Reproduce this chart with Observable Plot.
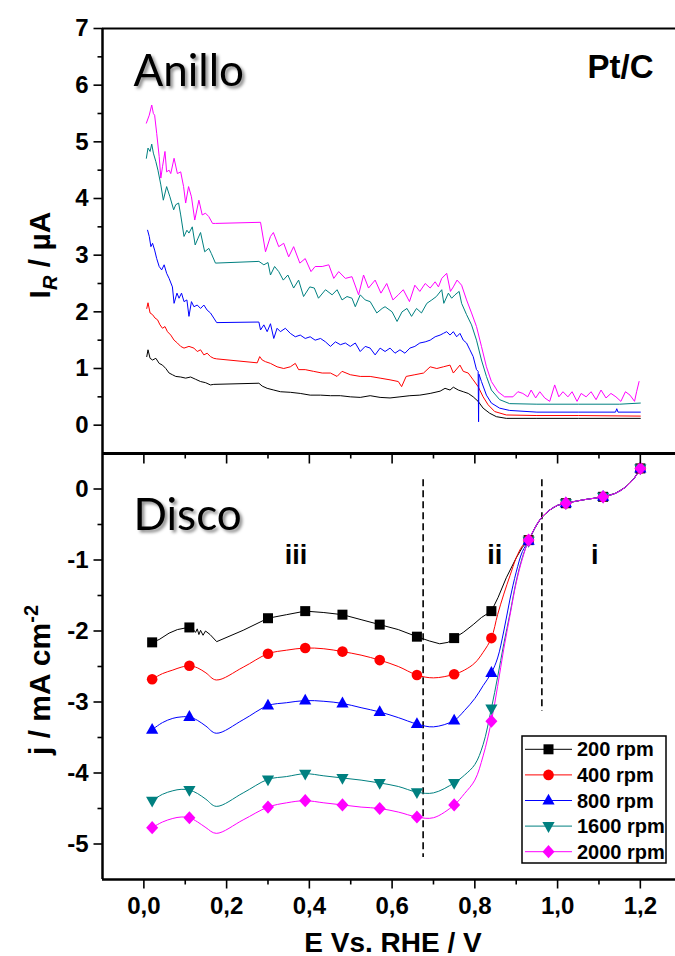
<!DOCTYPE html>
<html><head><meta charset="utf-8">
<script src="https://cdn.jsdelivr.net/npm/d3@7"></script>
<script src="https://cdn.jsdelivr.net/npm/@observablehq/plot@0.6"></script>
<style>
html,body{margin:0;padding:0;background:#fff;overflow:hidden;}
#wrap{position:relative;width:675px;height:956px;overflow:hidden;background:#fff;}
#wrap svg{position:absolute;left:0;}
</style></head><body><div id="wrap"></div>
<script>
// ---------------- DATA ----------------
const rpmLabels = ["200 rpm", "400 rpm", "800 rpm", "1600 rpm", "2000 rpm"];

// Ring current I_R (µA) vs E (V), pairs [E, I]
const ring200 = [[0.007,1.21],[0.010,1.33],[0.015,1.18],[0.021,1.15],[0.029,1.18],[0.037,1.09],[0.045,1.06],[0.053,1.00],[0.061,0.92],[0.069,0.89],[0.077,0.86],[0.089,0.85],[0.101,0.83],[0.113,0.85],[0.125,0.81],[0.137,0.77],[0.149,0.75],[0.161,0.71],[0.169,0.72],[0.278,0.74],[0.286,0.69],[0.298,0.65],[0.314,0.62],[0.330,0.59],[0.354,0.58],[0.378,0.56],[0.402,0.53],[0.427,0.53],[0.451,0.52],[0.475,0.52],[0.499,0.50],[0.523,0.49],[0.547,0.52],[0.571,0.49],[0.595,0.48],[0.619,0.50],[0.643,0.52],[0.667,0.53],[0.692,0.56],[0.716,0.60],[0.728,0.65],[0.740,0.62],[0.748,0.67],[0.760,0.62],[0.772,0.59],[0.784,0.56],[0.796,0.50],[0.808,0.42],[0.820,0.30],[0.836,0.21],[0.852,0.15],[0.876,0.12],[0.95,0.12],[1.05,0.12],[1.20,0.12]];
const ring400 = [[0.007,2.06],[0.010,2.16],[0.015,1.98],[0.021,1.95],[0.027,1.89],[0.033,1.86],[0.039,1.77],[0.045,1.71],[0.051,1.74],[0.057,1.65],[0.065,1.59],[0.073,1.50],[0.081,1.45],[0.089,1.39],[0.097,1.36],[0.109,1.39],[0.121,1.36],[0.129,1.30],[0.137,1.33],[0.145,1.24],[0.153,1.27],[0.161,1.21],[0.169,1.18],[0.176,1.17],[0.274,1.10],[0.280,1.21],[0.286,1.15],[0.294,1.12],[0.306,1.09],[0.322,1.03],[0.338,1.00],[0.354,1.03],[0.366,1.09],[0.374,0.98],[0.390,0.98],[0.410,0.95],[0.431,0.92],[0.451,0.92],[0.467,0.86],[0.479,0.95],[0.499,0.89],[0.523,0.86],[0.547,0.86],[0.571,0.83],[0.595,0.80],[0.615,0.77],[0.623,0.68],[0.634,0.86],[0.655,0.89],[0.676,0.92],[0.692,1.03],[0.708,1.00],[0.724,1.03],[0.740,1.06],[0.748,0.92],[0.764,1.06],[0.772,0.95],[0.784,0.92],[0.796,0.80],[0.808,0.68],[0.820,0.50],[0.832,0.36],[0.848,0.24],[0.876,0.18],[0.95,0.17],[1.05,0.17],[1.20,0.16]];
const ring800 = [[0.009,3.44],[0.013,3.33],[0.017,3.15],[0.021,3.21],[0.026,3.09],[0.031,2.94],[0.037,2.80],[0.043,2.74],[0.049,2.83],[0.055,2.68],[0.061,2.59],[0.069,2.44],[0.073,2.15],[0.080,2.33],[0.085,2.24],[0.091,2.33],[0.097,2.18],[0.104,2.21],[0.109,1.92],[0.115,2.18],[0.121,2.09],[0.129,2.12],[0.137,2.06],[0.145,2.12],[0.153,2.03],[0.161,1.98],[0.169,1.89],[0.176,1.81],[0.278,1.82],[0.282,1.68],[0.290,1.77],[0.298,1.65],[0.306,1.79],[0.314,1.53],[0.322,1.71],[0.330,1.65],[0.342,1.71],[0.354,1.62],[0.366,1.56],[0.378,1.59],[0.390,1.53],[0.402,1.56],[0.414,1.50],[0.427,1.53],[0.439,1.47],[0.451,1.39],[0.463,1.47],[0.475,1.42],[0.487,1.45],[0.499,1.39],[0.511,1.45],[0.523,1.30],[0.535,1.39],[0.547,1.36],[0.559,1.24],[0.571,1.36],[0.583,1.30],[0.595,1.36],[0.607,1.27],[0.619,1.33],[0.631,1.27],[0.643,1.36],[0.655,1.39],[0.667,1.45],[0.680,1.47],[0.692,1.50],[0.704,1.56],[0.716,1.59],[0.724,1.62],[0.732,1.65],[0.740,1.59],[0.748,1.65],[0.756,1.56],[0.764,1.62],[0.772,1.50],[0.780,1.45],[0.788,1.33],[0.796,1.21],[0.804,0.98],[0.808,0.95],[0.809,0.06],[0.810,0.90],[0.816,0.77],[0.828,0.53],[0.840,0.39],[0.860,0.30],[0.884,0.26],[0.95,0.23],[1.05,0.23],[1.14,0.23],[1.143,0.29],[1.146,0.23],[1.20,0.23]];
const ring1600 = [[0.006,4.71],[0.010,4.89],[0.015,4.83],[0.019,4.96],[0.023,4.80],[0.029,4.65],[0.034,4.50],[0.041,4.24],[0.047,3.97],[0.055,4.21],[0.063,4.03],[0.072,3.80],[0.077,3.89],[0.084,3.92],[0.089,3.71],[0.097,3.33],[0.104,3.44],[0.109,3.39],[0.117,3.50],[0.124,3.18],[0.131,3.30],[0.137,3.40],[0.147,3.06],[0.157,3.12],[0.163,3.03],[0.173,2.86],[0.278,2.89],[0.290,2.83],[0.300,2.87],[0.306,2.65],[0.316,2.80],[0.326,2.71],[0.337,2.56],[0.348,2.65],[0.362,2.42],[0.374,2.56],[0.386,2.27],[0.401,2.44],[0.412,2.42],[0.422,2.24],[0.439,2.39],[0.455,2.30],[0.467,2.39],[0.479,2.21],[0.491,2.27],[0.503,2.24],[0.511,2.09],[0.523,2.30],[0.535,2.21],[0.547,2.18],[0.563,1.98],[0.576,2.06],[0.583,2.09],[0.600,2.00],[0.612,1.83],[0.624,2.00],[0.636,2.06],[0.647,1.92],[0.659,2.06],[0.671,1.98],[0.684,2.15],[0.696,2.21],[0.707,2.27],[0.720,2.39],[0.725,2.15],[0.736,2.33],[0.744,2.24],[0.752,2.30],[0.762,2.36],[0.768,2.15],[0.780,1.95],[0.792,1.77],[0.804,1.50],[0.816,1.15],[0.828,0.86],[0.840,0.62],[0.860,0.45],[0.884,0.38],[0.95,0.37],[1.05,0.37],[1.15,0.37],[1.20,0.39]];
const ring2000 = [[0.006,5.33],[0.013,5.47],[0.019,5.65],[0.023,5.50],[0.026,5.47],[0.031,5.15],[0.037,4.74],[0.041,4.36],[0.045,4.56],[0.051,4.83],[0.055,4.47],[0.061,4.50],[0.065,4.44],[0.073,4.71],[0.081,4.44],[0.089,4.47],[0.096,4.21],[0.101,3.92],[0.108,4.21],[0.115,4.03],[0.123,3.62],[0.133,3.97],[0.141,3.71],[0.149,3.74],[0.157,3.68],[0.166,3.56],[0.173,3.56],[0.282,3.58],[0.294,3.06],[0.306,3.33],[0.313,3.40],[0.326,3.15],[0.338,3.21],[0.350,2.97],[0.362,3.15],[0.377,2.86],[0.390,2.94],[0.404,2.71],[0.414,2.80],[0.431,2.80],[0.447,2.83],[0.459,2.59],[0.471,2.71],[0.487,2.59],[0.503,2.62],[0.519,2.30],[0.531,2.65],[0.543,2.42],[0.559,2.56],[0.573,2.33],[0.587,2.50],[0.602,2.21],[0.615,2.30],[0.627,2.39],[0.642,2.18],[0.655,2.47],[0.667,2.36],[0.680,2.50],[0.692,2.42],[0.704,2.53],[0.712,2.44],[0.720,2.59],[0.732,2.68],[0.741,2.36],[0.748,2.44],[0.757,2.56],[0.768,2.47],[0.780,2.21],[0.792,1.98],[0.804,1.74],[0.816,1.39],[0.828,1.03],[0.840,0.77],[0.856,0.59],[0.872,0.50],[0.892,0.50],[0.904,0.59],[0.916,0.56],[0.928,0.50],[0.936,0.62],[0.947,0.48],[0.957,0.59],[0.969,0.48],[0.981,0.42],[0.993,0.71],[1.003,0.50],[1.013,0.59],[1.025,0.50],[1.035,0.59],[1.047,0.42],[1.057,0.56],[1.069,0.50],[1.081,0.59],[1.093,0.45],[1.105,0.62],[1.117,0.48],[1.129,0.56],[1.141,0.50],[1.153,0.42],[1.164,0.59],[1.175,0.53],[1.186,0.42],[1.191,0.59],[1.197,0.77]];

// Disk current density j (mA cm^-2) vs E (V), pairs [E, j]
const disk200 = [[0.02,-2.16],[0.037,-2.12],[0.061,-2.03],[0.081,-1.98],[0.107,-1.95],[0.118,-1.97],[0.125,-2.02],[0.129,-1.97],[0.133,-2.05],[0.137,-1.99],[0.143,-2.06],[0.149,-2.00],[0.16,-2.05],[0.176,-2.15],[0.24,-1.99],[0.30,-1.82],[0.345,-1.77],[0.39,-1.72],[0.435,-1.74],[0.48,-1.77],[0.525,-1.84],[0.57,-1.91],[0.615,-1.98],[0.66,-2.08],[0.69,-2.14],[0.715,-2.18],[0.735,-2.16],[0.75,-2.10],[0.772,-2.02],[0.796,-1.91],[0.816,-1.81],[0.84,-1.72],[0.856,-1.53],[0.876,-1.25],[0.90,-0.97],[0.915,-0.82],[0.93,-0.72],[0.945,-0.55],[0.96,-0.41],[0.98,-0.30],[1.00,-0.23],[1.02,-0.20],[1.065,-0.15],[1.11,-0.11],[1.14,-0.06],[1.165,0.03],[1.185,0.15],[1.20,0.29]];
const disk400 = [[0.02,-2.68],[0.045,-2.60],[0.07,-2.55],[0.09,-2.51],[0.11,-2.49],[0.13,-2.52],[0.15,-2.59],[0.175,-2.69],[0.24,-2.51],[0.30,-2.32],[0.345,-2.27],[0.39,-2.24],[0.435,-2.25],[0.48,-2.29],[0.525,-2.34],[0.57,-2.41],[0.615,-2.50],[0.66,-2.62],[0.70,-2.66],[0.75,-2.61],[0.775,-2.55],[0.80,-2.45],[0.82,-2.30],[0.84,-2.10],[0.855,-1.77],[0.87,-1.48],[0.885,-1.22],[0.90,-0.97],[0.915,-0.80],[0.93,-0.72],[0.945,-0.55],[0.96,-0.41],[0.98,-0.30],[1.00,-0.23],[1.02,-0.20],[1.065,-0.15],[1.11,-0.11],[1.14,-0.06],[1.165,0.03],[1.185,0.15],[1.20,0.29]];
const disk800 = [[0.02,-3.39],[0.045,-3.29],[0.07,-3.23],[0.09,-3.21],[0.11,-3.21],[0.13,-3.26],[0.15,-3.34],[0.175,-3.44],[0.24,-3.25],[0.30,-3.05],[0.345,-3.01],[0.39,-2.98],[0.435,-2.99],[0.48,-3.02],[0.525,-3.08],[0.57,-3.14],[0.615,-3.22],[0.66,-3.31],[0.70,-3.35],[0.75,-3.26],[0.775,-3.12],[0.80,-2.95],[0.82,-2.77],[0.84,-2.59],[0.855,-2.38],[0.87,-2.00],[0.885,-1.55],[0.90,-1.17],[0.915,-0.88],[0.93,-0.73],[0.945,-0.55],[0.96,-0.41],[0.98,-0.30],[1.00,-0.23],[1.02,-0.20],[1.065,-0.15],[1.11,-0.11],[1.14,-0.06],[1.165,0.03],[1.185,0.15],[1.20,0.29]];
const disk1600 = [[0.02,-4.39],[0.045,-4.30],[0.07,-4.25],[0.09,-4.23],[0.11,-4.24],[0.13,-4.29],[0.15,-4.37],[0.175,-4.47],[0.24,-4.28],[0.30,-4.09],[0.345,-4.05],[0.39,-4.01],[0.435,-4.04],[0.48,-4.07],[0.525,-4.10],[0.57,-4.14],[0.615,-4.19],[0.66,-4.27],[0.70,-4.28],[0.75,-4.14],[0.775,-4.03],[0.80,-3.88],[0.82,-3.60],[0.84,-3.09],[0.855,-2.65],[0.87,-2.18],[0.885,-1.75],[0.90,-1.30],[0.915,-0.96],[0.93,-0.73],[0.945,-0.55],[0.96,-0.41],[0.98,-0.30],[1.00,-0.23],[1.02,-0.20],[1.065,-0.15],[1.11,-0.11],[1.14,-0.06],[1.165,0.03],[1.185,0.15],[1.20,0.29]];
const disk2000 = [[0.02,-4.77],[0.045,-4.69],[0.07,-4.64],[0.09,-4.62],[0.11,-4.63],[0.13,-4.69],[0.15,-4.77],[0.175,-4.85],[0.24,-4.66],[0.30,-4.48],[0.345,-4.42],[0.39,-4.39],[0.435,-4.42],[0.48,-4.45],[0.525,-4.48],[0.57,-4.50],[0.615,-4.55],[0.66,-4.62],[0.70,-4.63],[0.75,-4.45],[0.775,-4.29],[0.80,-4.10],[0.82,-3.76],[0.84,-3.27],[0.855,-2.78],[0.87,-2.25],[0.885,-1.78],[0.90,-1.32],[0.915,-0.98],[0.93,-0.72],[0.945,-0.55],[0.96,-0.41],[0.98,-0.30],[1.00,-0.23],[1.02,-0.20],[1.065,-0.15],[1.11,-0.11],[1.14,-0.06],[1.165,0.03],[1.185,0.15],[1.20,0.29]];

// Marker positions on disk curves
const diskMarkE = [0.02,0.11,0.30,0.39,0.48,0.57,0.66,0.75,0.84,0.93,1.02,1.11,1.20];
const diskMark200  = [-2.16,-1.95,-1.82,-1.72,-1.77,-1.91,-2.08,-2.10,-1.72,-0.72,-0.20,-0.11,0.29];
const diskMark400  = [-2.68,-2.49,-2.32,-2.24,-2.29,-2.41,-2.62,-2.61,-2.10,-0.72,-0.20,-0.11,0.29];
const diskMark800  = [-3.39,-3.21,-3.05,-2.98,-3.02,-3.14,-3.31,-3.26,-2.59,-0.73,-0.20,-0.11,0.29];
const diskMark1600 = [-4.39,-4.24,-4.09,-4.01,-4.07,-4.14,-4.27,-4.14,-3.09,-0.73,-0.20,-0.11,0.29];
const diskMark2000 = [-4.77,-4.63,-4.48,-4.39,-4.45,-4.50,-4.62,-4.45,-3.27,-0.72,-0.20,-0.11,0.29];

// Axes
const xDomain = [-0.1, 1.285];
const ringYDomain = [-0.5, 7];
const diskYDomain = [-5.5, 0.5];
const xMajorTicks = [0, 0.2, 0.4, 0.6, 0.8, 1.0, 1.2];
const xMinorTicks = [0.1, 0.3, 0.5, 0.7, 0.9, 1.1];
const ringYTicks = [0, 1, 2, 3, 4, 5, 6, 7];
const ringYMinor = [0.5, 1.5, 2.5, 3.5, 4.5, 5.5, 6.5];
const diskYTicks = [-5, -4, -3, -2, -1, 0];
const diskYMinor = [-4.5, -3.5, -2.5, -1.5, -0.5];

// Region annotations
const regionLabels = ["iii", "ii", "i"];
const regionLabelE = [0.368, 0.848, 1.09];
const regionLabelJ = [-1.05, -1.05, -1.05];
const regionBoundE = [0.675, 0.962];
const regionBoundHigh = [0.13, 0.13];
const regionBoundLow = [-5.19, -3.13];

// ---------------- STYLE ----------------
const colors = ["#000000", "#ff0000", "#0000ff", "#008080", "#ff00ff"];
const AR = "'Liberation Sans', Arial, Helvetica, sans-serif";

const symSquare = {draw(c){ c.rect(-5, -5, 10, 10); }};
const symCircle = {draw(c){ c.moveTo(5.3, 0); c.arc(0, 0, 5.3, 0, 2 * Math.PI); c.closePath(); }};
const symTriUp = {draw(c){ c.moveTo(0, -6.8); c.lineTo(6.1, 4.0); c.lineTo(-6.1, 4.0); c.closePath(); }};
const symTriDown = {draw(c){ c.moveTo(0, 6.8); c.lineTo(6.1, -4.0); c.lineTo(-6.1, -4.0); c.closePath(); }};
const symDiamond = {draw(c){ c.moveTo(0, -6.6); c.lineTo(6.0, 0); c.lineTo(0, 6.6); c.lineTo(-6.0, 0); c.closePath(); }};
const symbols = [symSquare, symCircle, symTriUp, symTriDown, symDiamond];
const tickSym = (dx, dy) => ({draw(c){ c.moveTo(0, 0); c.lineTo(dx, dy); }});
const tickOpts = {stroke: "black", fill: "none", strokeWidth: 1.6};

const ringSeries = [ring200, ring400, ring800, ring1600, ring2000];
const diskSeries = [disk200, disk400, disk800, disk1600, disk2000];
const diskMarks = [diskMark200, diskMark400, diskMark800, diskMark1600, diskMark2000];

const svgStyle = `font-family: ${AR}; font-size: 24px; font-weight: bold; background: transparent; overflow: visible;`;
const commaFmt = d => d.toFixed(1).replace(".", ",");

// ---------------- TOP PANEL (Anillo) ----------------
const ringPlot = Plot.plot({
  width: 675, height: 453,
  marginLeft: 102, marginRight: 0, marginTop: 28, marginBottom: 0,
  style: svgStyle,
  x: {domain: xDomain, axis: null},
  y: {domain: ringYDomain, ticks: ringYTicks, tickSize: 0, tickPadding: 14, tickFormat: d => String(d), label: null},
  marks: [
    ...ringSeries.map((s, i) => Plot.line(s, {x: d => d[0], y: d => d[1], stroke: colors[i], strokeWidth: 1})),
    Plot.ruleX([xDomain[0]], {stroke: "black", strokeWidth: 2.5}),
    Plot.ruleY([ringYDomain[1]], {stroke: "black", strokeWidth: 2}),
    Plot.dot(ringYTicks, {x: () => xDomain[0], y: d => d, symbol: tickSym(-9, 0), ...tickOpts}),
    Plot.dot(ringYMinor, {x: () => xDomain[0], y: d => d, symbol: tickSym(-5, 0), ...tickOpts}),
    Plot.text(["Anillo"], {text: d => d, frameAnchor: "top-left", dx: 31, dy: 57, textAnchor: "start", lineAnchor: "bottom", fontSize: 44, fontWeight: "normal", fontFamily: "Lato, 'Open Sans', sans-serif", fill: "black"}),
    Plot.text(["Pt/C"], {text: d => d, frameAnchor: "top-right", dx: -22, dy: 49, textAnchor: "end", lineAnchor: "bottom", fontSize: 33, fontWeight: "bold", fontFamily: AR, fill: "black"})
  ]
});
ringPlot.style.top = "0px";

// ---------------- BOTTOM PANEL (Disco) ----------------
const diskPlot = Plot.plot({
  width: 675, height: 505,
  marginLeft: 102, marginRight: 0, marginTop: 2, marginBottom: 77,
  style: svgStyle,
  x: {domain: xDomain, ticks: xMajorTicks, tickSize: 0, tickPadding: 17, tickFormat: commaFmt, label: null},
  y: {domain: diskYDomain, ticks: diskYTicks, tickSize: 0, tickPadding: 14, tickFormat: d => String(d), label: null},
  marks: [
    Plot.ruleX(regionBoundE, {x: d => d, y1: (d, i) => regionBoundHigh[i], y2: (d, i) => regionBoundLow[i], stroke: "black", strokeWidth: 1.6, strokeDasharray: "7,4"}),
    ...diskSeries.map((s, i) => Plot.line(s, {x: d => d[0], y: d => d[1], stroke: colors[i], strokeWidth: 1, curve: i === 0 ? "linear" : "catmull-rom"})),
    ...diskMarks.map((m, i) => Plot.dot(diskMarkE, {x: d => d, y: (d, k) => m[k], symbol: symbols[i], fill: colors[i], stroke: "none"})),
    Plot.text(regionLabels, {x: regionLabelE, y: regionLabelJ, text: d => d, textAnchor: "middle", lineAnchor: "bottom", fontSize: 27, fontWeight: "bold", fontFamily: AR, fill: "black"}),
    Plot.ruleX([xDomain[0]], {stroke: "black", strokeWidth: 2.5}),
    Plot.ruleY([diskYDomain[1]], {stroke: "black", strokeWidth: 2.8}),
    Plot.ruleY([diskYDomain[0]], {stroke: "black", strokeWidth: 2.5}),
    Plot.dot(diskYTicks, {x: () => xDomain[0], y: d => d, symbol: tickSym(-9, 0), ...tickOpts}),
    Plot.dot(diskYMinor, {x: () => xDomain[0], y: d => d, symbol: tickSym(-5, 0), ...tickOpts}),
    Plot.dot(xMajorTicks, {x: d => d, y: () => diskYDomain[0], symbol: tickSym(0, 9), ...tickOpts}),
    Plot.dot(xMinorTicks, {x: d => d, y: () => diskYDomain[0], symbol: tickSym(0, 5), ...tickOpts}),
    Plot.dot(xMajorTicks, {x: d => d, y: () => diskYDomain[1], symbol: tickSym(0, 10), ...tickOpts}),
    Plot.dot(xMinorTicks, {x: d => d, y: () => diskYDomain[1], symbol: tickSym(0, 5), ...tickOpts}),
    Plot.text(["Disco"], {text: d => d, frameAnchor: "top-left", dx: 31, dy: 76, textAnchor: "start", lineAnchor: "bottom", fontSize: 44, fontWeight: "normal", fontFamily: "Lato, 'Open Sans', sans-serif", fill: "black"}),
    Plot.text(["E Vs. RHE / V"], {text: d => d, frameAnchor: "bottom", dx: 4, dy: 72, textAnchor: "middle", lineAnchor: "bottom", fontSize: 28, fontWeight: "bold", fontFamily: AR, fill: "black"})
  ]
});
diskPlot.style.top = "451px";

const wrap = document.getElementById("wrap");
wrap.appendChild(ringPlot);
wrap.appendChild(diskPlot);

// ---------------- shadows for panel names ----------------
function addShadow(svg, id, word) {
  const s = d3.select(svg);
  const f = s.append("defs").append("filter").attr("id", id).attr("x", "-10%").attr("y", "-20%").attr("width", "130%").attr("height", "150%");
  f.append("feDropShadow").attr("dx", 2.5).attr("dy", 2.5).attr("stdDeviation", 1.6).attr("flood-color", "#000").attr("flood-opacity", 0.45);
  s.selectAll("text").filter(function() { return this.textContent === word; }).attr("filter", `url(#${id})`);
}
addShadow(ringPlot, "shA", "Anillo");
addShadow(diskPlot, "shD", "Disco");

// ---------------- y-axis titles ----------------
const t1 = d3.select(ringPlot).append("text")
  .attr("transform", "translate(50,255) rotate(-90)")
  .attr("text-anchor", "middle").attr("font-size", 30).attr("font-weight", "bold").attr("font-family", AR).attr("fill", "black");
t1.append("tspan").text("I");
t1.append("tspan").attr("font-size", 20).attr("font-style", "italic").attr("dy", 7).text("R");
t1.append("tspan").attr("dy", -7).text(" / µA");

const t2 = d3.select(diskPlot).append("text")
  .attr("transform", "translate(50,229) rotate(-90)")
  .attr("text-anchor", "middle").attr("font-size", 30).attr("font-weight", "bold").attr("font-family", AR).attr("fill", "black");
t2.append("tspan").text("j / mA cm");
t2.append("tspan").attr("font-size", 20).attr("dy", -12).text("-2");

// ---------------- legend ----------------
const lg = d3.select(diskPlot).append("g");
lg.append("rect").attr("x", 522).attr("y", 285).attr("width", 144).attr("height", 127)
  .attr("fill", "white").attr("stroke", "black").attr("stroke-width", 1.5);
rpmLabels.forEach((lab, i) => {
  const cy = 298.3 + i * 25.6;
  lg.append("line").attr("x1", 525).attr("x2", 572).attr("y1", cy).attr("y2", cy).attr("stroke", colors[i]).attr("stroke-width", 1);
  lg.append("path").attr("d", d3.symbol(symbols[i])()).attr("transform", `translate(548.5,${cy})`).attr("fill", colors[i]);
  lg.append("text").attr("x", 577).attr("y", cy).attr("dy", "0.35em").attr("text-anchor", "start")
    .attr("font-size", 20).attr("font-weight", "bold").attr("font-family", AR).attr("fill", "black").text(lab);
});
</script></body></html>
